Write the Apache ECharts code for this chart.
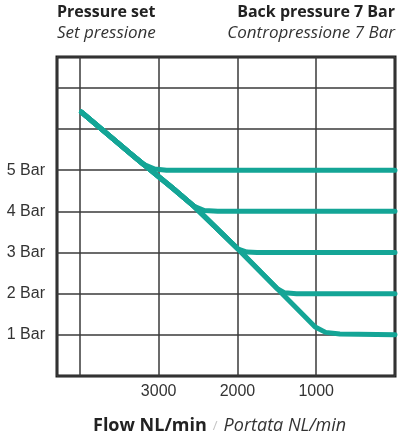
<!DOCTYPE html>
<html>
<head>
<meta charset="utf-8">
<script src="https://cdn.jsdelivr.net/npm/echarts@6/dist/echarts.min.js"></script>
<style>
  html, body { margin: 0; padding: 0; background: #fff; }
  #chart { width: 398px; height: 441px; }
</style>
</head>
<body>
<div id="chart"></div>
<script>
// Flow (NL/min) vs regulated pressure (Bar), one curve per set pressure
const curve5Bar = [[3980, 6.41], [3330, 5.36], [3200, 5.15], [3050, 5.03], [2900, 5.0], [0, 5.0]];
const curve4Bar = [[3980, 6.41], [3330, 5.36], [2820, 4.56], [2550, 4.12], [2420, 4.02], [2250, 4.0], [0, 4.0]];
const curve3Bar = [[3980, 6.41], [3330, 5.36], [2820, 4.56], [2550, 4.12], [1990, 3.08], [1880, 3.01], [1750, 3.0], [0, 3.0]];
const curve2Bar = [[3980, 6.41], [3330, 5.36], [2820, 4.56], [2550, 4.12], [1990, 3.08], [1500, 2.13], [1400, 2.02], [1250, 2.0], [0, 2.0]];
const curve1Bar = [[3980, 6.41], [3330, 5.36], [2820, 4.56], [2550, 4.12], [1990, 3.08], [1500, 2.13], [1013, 1.19], [880, 1.06], [700, 1.02], [0, 1.0]];

const curves = [curve5Bar, curve4Bar, curve3Bar, curve2Bar, curve1Bar];
const flowTickLabels = [1000, 2000, 3000];
const pressureTickLabels = [1, 2, 3, 4, 5];

const teal = '#14a596';
const titleFont = "'Open Sans', 'DejaVu Sans', sans-serif";
const tickFont = "'Liberation Sans', Arial, sans-serif";

const chart = echarts.init(document.getElementById('chart'), null, { renderer: 'canvas' });

chart.setOption({
  animation: false,
  backgroundColor: '#fff',
  grid: {
    left: 57, right: 3, top: 57, bottom: 65,
    show: true, borderColor: '#1c1c1c', borderWidth: 3
  },
  xAxis: {
    type: 'value', inverse: true, min: 0, max: 4290, interval: 1000,
    axisLine: { show: false }, axisTick: { show: false },
    splitLine: { show: true, lineStyle: { color: '#3a3a3a', width: 1.5 } },
    axisLabel: {
      margin: 8, color: '#333', fontFamily: tickFont, fontSize: 16,
      formatter: v => flowTickLabels.includes(v) ? String(v) : ''
    }
  },
  yAxis: {
    type: 'value', min: 0, max: 7.75, interval: 1,
    axisLine: { show: false }, axisTick: { show: false },
    splitLine: { show: true, lineStyle: { color: '#3a3a3a', width: 1.5 } },
    axisLabel: {
      margin: 12, color: '#333', fontFamily: tickFont, fontSize: 16,
      formatter: v => pressureTickLabels.includes(v) ? v + ' Bar' : ''
    }
  },
  series: curves.map(c => ({
    type: 'line', data: c, showSymbol: false, smooth: false,
    lineStyle: { color: teal, width: 5, cap: 'round', join: 'round' },
    z: 3
  })),
  graphic: [
    {
      type: 'text', left: 57, top: 4,
      style: {
        text: '{b|Pressure set}\n{i|Set pressione}',
        rich: {
          b: { fontFamily: titleFont, fontWeight: 'bold', fontSize: 16, fill: '#222', lineHeight: 21 },
          i: { fontFamily: titleFont, fontStyle: 'italic', fontSize: 17, fill: '#333', lineHeight: 21 }
        }
      }
    },
    {
      type: 'text', right: 3, top: 4,
      style: {
        text: '{b|Back pressure 7 Bar}\n{i|Contropressione 7 Bar}',
        align: 'right',
        rich: {
          b: { fontFamily: titleFont, fontWeight: 'bold', fontSize: 16, fill: '#222', lineHeight: 21, align: 'right' },
          i: { fontFamily: titleFont, fontStyle: 'italic', fontSize: 17, fill: '#333', lineHeight: 21, align: 'right' }
        }
      }
    },
    {
      type: 'text', left: 93, top: 417,
      style: {
        text: '{b|Flow NL/min}{s|/}{i|Portata NL/min}',
        rich: {
          b: { fontFamily: titleFont, fontWeight: 'bold', fontSize: 18, fill: '#222', lineHeight: 22 },
          s: { fontFamily: titleFont, fontSize: 13, fill: '#c4c4c4', lineHeight: 22, padding: [0, 6, 0, 6] },
          i: { fontFamily: titleFont, fontStyle: 'italic', fontSize: 18, fill: '#333', lineHeight: 22 }
        }
      }
    }
  ]
});
</script>
</body>
</html>
